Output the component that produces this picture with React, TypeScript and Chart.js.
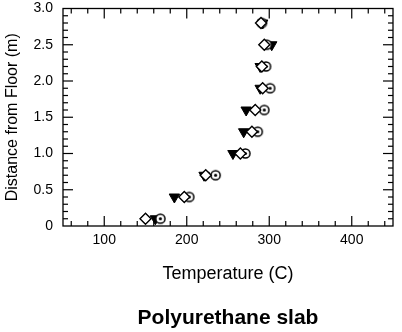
import React, { useEffect, useRef } from 'react';
import { Chart, registerables } from 'chart.js';

Chart.register(...registerables);

// Data
const heights = [0.1, 0.4, 0.7, 1.0, 1.3, 1.6, 1.9, 2.2, 2.5, 2.8];
const tempTriangle = [162, 185, 221, 256, 269, 272, 289, 289, 303, 292];
const tempDiamond = [150, 197, 223, 265, 279, 283, 292, 291, 294, 290];
const tempCircle = [168, 203, 235, 271, 286, 294, 301, 296, 297, 291];

const xTickValues = [100, 200, 300, 400];
const yTickValues = [0, 0.5, 1.0, 1.5, 2.0, 2.5, 3.0];
const xMinorStep = 20;
const yMinorStep = 0.1;

const FONT = "'Liberation Sans', Arial, Helvetica, sans-serif";

function toPoints(xs: number[], ys: number[]) {
  return xs.map((x, i) => ({ x, y: ys[i] }));
}

function makeDotCircle(): HTMLCanvasElement {
  const c = document.createElement('canvas');
  c.width = 13;
  c.height = 13;
  const ctx = c.getContext('2d')!;
  ctx.beginPath();
  ctx.arc(6.5, 6.5, 4.6, 0, Math.PI * 2);
  ctx.fillStyle = '#fff';
  ctx.fill();
  ctx.lineWidth = 1.5;
  ctx.strokeStyle = '#000';
  ctx.stroke();
  ctx.beginPath();
  ctx.arc(6.5, 6.5, 1.6, 0, Math.PI * 2);
  ctx.fillStyle = '#000';
  ctx.fill();
  return c;
}

function drawFrameTicks(chart: any) {
  const ctx: CanvasRenderingContext2D = chart.ctx;
  const area = chart.chartArea;
  const xs = chart.scales.x;
  const ys = chart.scales.y;
  const left = area.left, right = area.right, top = area.top, bottom = area.bottom;
  ctx.save();
  ctx.strokeStyle = '#000000';
  ctx.lineWidth = 1.2;
  const nx = Math.round((xs.max - xs.min) / xMinorStep);
  const startX = Math.ceil(xs.min / xMinorStep) * xMinorStep;
  for (let i = 0; i <= nx; i++) {
    const v = startX + i * xMinorStep;
    if (v > xs.max) break;
    const px = xs.getPixelForValue(v);
    const len = v % 100 === 0 ? 10 : 5;
    ctx.beginPath();
    ctx.moveTo(px, bottom);
    ctx.lineTo(px, bottom - len);
    ctx.stroke();
    ctx.beginPath();
    ctx.moveTo(px, top);
    ctx.lineTo(px, top + len);
    ctx.stroke();
  }
  const ny = Math.round((ys.max - ys.min) / yMinorStep);
  for (let i = 1; i < ny; i++) {
    const v = ys.min + i * yMinorStep;
    const py = ys.getPixelForValue(v);
    const len = i % 5 === 0 ? 10 : 5;
    ctx.beginPath();
    ctx.moveTo(left, py);
    ctx.lineTo(left + len, py);
    ctx.stroke();
    ctx.beginPath();
    ctx.moveTo(right, py);
    ctx.lineTo(right - len, py);
    ctx.stroke();
  }
  ctx.lineWidth = 1.3;
  ctx.strokeRect(left, top, right - left, bottom - top);
  ctx.restore();
}

const frameTicks = {
  id: 'frameTicks',
  afterDraw(chart: any) {
    drawFrameTicks(chart);
  },
};

export default function App() {
  const ref = useRef<HTMLCanvasElement>(null);

  useEffect(() => {
    const canvas = ref.current!;
    const dot = makeDotCircle();
    const chart = new Chart(canvas, {
      type: 'scatter',
      data: {
        datasets: [
          {
            label: 'diamond',
            data: toPoints(tempDiamond, heights),
            pointStyle: 'rectRot',
            pointRadius: 5.5,
            pointBackgroundColor: '#fff',
            pointBorderColor: '#000',
            pointBorderWidth: 1.4,
          },
          {
            label: 'circle',
            data: toPoints(tempCircle, heights),
            pointStyle: dot,
            pointRadius: 6,
            pointBackgroundColor: '#fff',
            pointBorderColor: '#000',
          },
          {
            label: 'triangle',
            data: toPoints(tempTriangle, heights),
            pointStyle: 'triangle',
            rotation: 180,
            pointRadius: 6,
            pointBackgroundColor: '#000',
            pointBorderColor: '#000',
            pointBorderWidth: 1,
          },
        ],
      },
      options: {
        responsive: false,
        animation: false,
        events: [],
        layout: { autoPadding: false, padding: { left: 0, right: 9, top: 8.5, bottom: 0.9 } },
        plugins: {
          legend: { display: false },
          tooltip: { enabled: false },
          title: {
            display: true,
            position: 'bottom',
            fullSize: false,
            text: 'Polyurethane slab',
            color: '#000',
            font: { family: FONT, size: 21, weight: 'bold' },
            padding: { top: 0, bottom: 0 },
          },
        },
        scales: {
          x: {
            type: 'linear',
            min: 50,
            max: 450,
            afterBuildTicks: (scale: any) => {
              scale.ticks = xTickValues.map((v) => ({ value: v }));
            },
            afterFit: (scale: any) => {
              scale.height = 79.9;
              scale.paddingLeft = 0;
              scale.paddingRight = 0;
            },
            grid: { display: false, drawTicks: false },
            border: { display: false },
            ticks: {
              color: '#000',
              padding: 6,
              maxRotation: 0,
              font: { family: FONT, size: 14 },
              callback: (v: any) => String(v),
            },
            title: {
              display: true,
              text: 'Temperature (C)',
              color: '#000',
              font: { family: FONT, size: 18 },
              padding: { top: 0, bottom: 21 },
            },
          },
          y: {
            type: 'linear',
            min: 0,
            max: 3,
            afterBuildTicks: (scale: any) => {
              scale.ticks = yTickValues.map((v) => ({ value: v }));
            },
            afterFit: (scale: any) => {
              scale.width = 63;
              scale.paddingTop = 0;
              scale.paddingBottom = 0;
            },
            grid: { display: false, drawTicks: false },
            border: { display: false },
            ticks: {
              color: '#000',
              padding: 10,
              font: { family: FONT, size: 14 },
              callback: (v: any) => (Number(v) === 0 ? '0' : Number(v).toFixed(1)),
            },
            title: {
              display: true,
              text: 'Distance from Floor (m)',
              color: '#000',
              font: { family: FONT, size: 16 },
              padding: { top: 3, bottom: 0 },
            },
          },
        },
      },
      plugins: [frameTicks],
    } as any);
    return () => chart.destroy();
  }, []);

  return (
    <div style={{ position: 'absolute', left: 0, top: 0, width: 402, height: 332, background: '#fff' }}>
      <canvas ref={ref} width={402} height={332} style={{ display: 'block' }} />
    </div>
  );
}
